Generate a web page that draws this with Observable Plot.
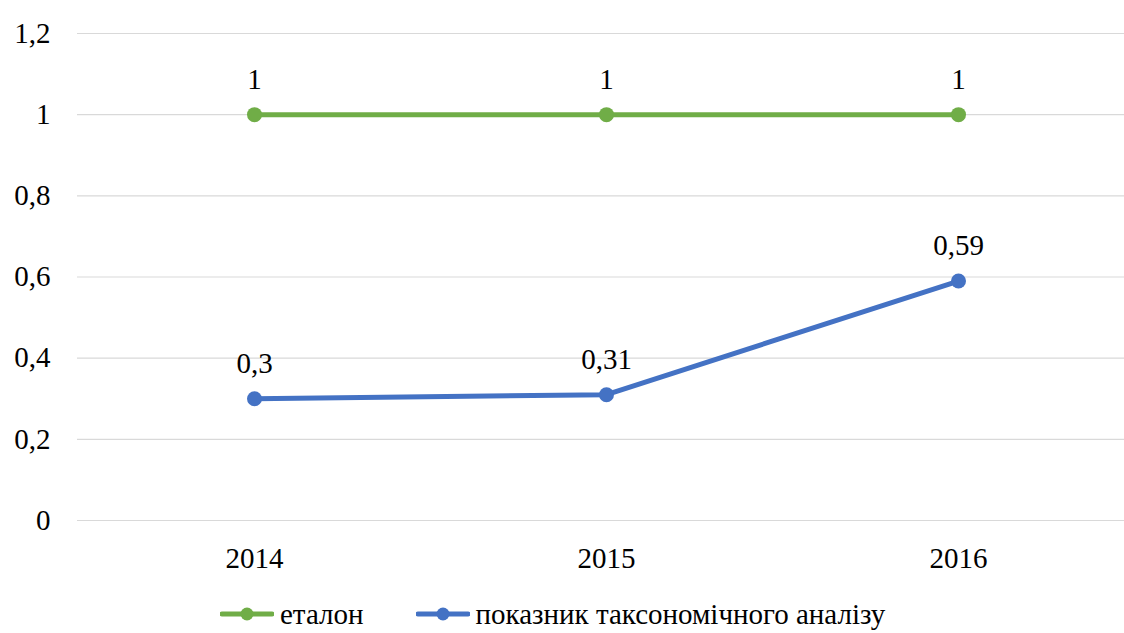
<!DOCTYPE html>
<html>
<head>
<meta charset="utf-8">
<script src="https://cdn.jsdelivr.net/npm/d3@7"></script>
<script src="https://cdn.jsdelivr.net/npm/@observablehq/plot@0.6"></script>
</head>
<body style="margin:0;padding:0;background:#fff">
<div id="chart" style="width:1124px"></div>
<script>
// Years on the horizontal axis
const years = ["2014", "2015", "2016"];
// Reference (etalon) series
const etalon = [1, 1, 1];
// Taxonomic analysis indicator series
const taxonomy = [0.3, 0.31, 0.59];
// Y axis ticks
const yTicks = [0, 0.2, 0.4, 0.6, 0.8, 1.0, 1.2];

const seriesNames = ["еталон", "показник таксономічного аналізу"];
const seriesColors = ["#70AD47", "#4472C4"];

const FONT = "\"Liberation Serif\", \"Times New Roman\", serif";

const rows = [
  ...years.map((y, i) => ({year: y, value: etalon[i], series: seriesNames[0]})),
  ...years.map((y, i) => ({year: y, value: taxonomy[i], series: seriesNames[1]}))
];

const fmt = v => String(v).replace(".", ",");

const plot = Plot.plot({
  width: 1124,
  height: 595,
  marginLeft: 77,
  marginRight: 0,
  marginTop: 33,
  marginBottom: 75,
  style: {fontSize: "29px", color: "#000", background: "#fff"},
  x: {type: "point", domain: years, range: [253, 958], padding: 0, label: null},
  y: {domain: [0, 1.2], label: null},
  color: {domain: seriesNames, range: seriesColors},
  marks: [
    Plot.ruleY(yTicks, {stroke: "#d9d9d9", strokeWidth: 1.2}),
    Plot.axisY({ticks: yTicks, tickSize: 0, tickPadding: 27, tickFormat: fmt, label: null, fontSize: 29}),
    Plot.axisX({tickSize: 0, tickPadding: 27, label: null, fontSize: 29}),
    Plot.line(rows, {x: "year", y: "value", z: "series", stroke: "series", strokeWidth: 5, curve: "linear"}),
    Plot.dot(rows, {x: "year", y: "value", fill: "series", r: 7.5}),
    Plot.text(rows, {x: "year", y: "value", text: d => fmt(d.value), lineAnchor: "bottom", dy: -26, fontSize: 29, fill: "#000"})
  ]
});
document.getElementById("chart").appendChild(plot);

// Legend below the chart
const legend = document.createElement("div");
legend.style.cssText = "display:flex;align-items:center;height:38px;padding-left:220px;font-size:29px;color:#000";
seriesNames.forEach((name, i) => {
  const item = document.createElement("div");
  item.style.cssText = "display:flex;align-items:center;margin-right:52px";
  item.innerHTML = `<svg width="54" height="16" style="margin-right:6px"><line x1="2" y1="8" x2="52" y2="8" stroke="${seriesColors[i]}" stroke-width="5" stroke-linecap="round"/><circle cx="27" cy="8" r="6.5" fill="${seriesColors[i]}"/></svg>`;
  const label = document.createElement("span");
  label.textContent = name;
  item.appendChild(label);
  legend.appendChild(item);
});
document.getElementById("chart").appendChild(legend);

// Serif typeface on the whole chart, text nodes included
const chart = document.getElementById("chart");
[chart, ...chart.querySelectorAll("svg, g, text, span, div")].forEach(el => {
  el.style.setProperty("font-family", FONT, "important");
});
</script>
</body>
</html>
